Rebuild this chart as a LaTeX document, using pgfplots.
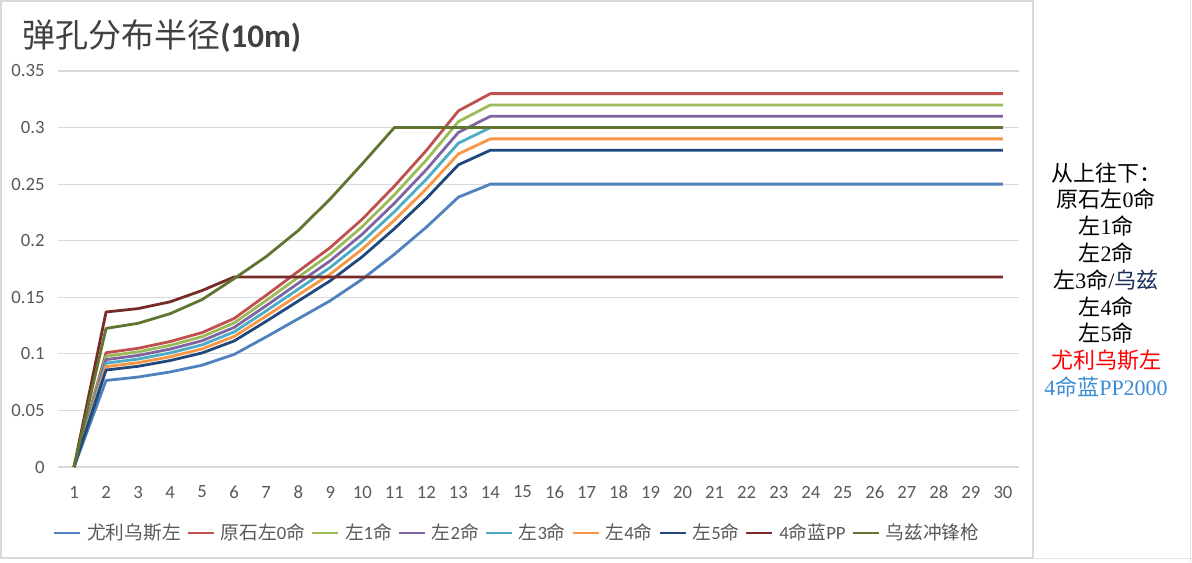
\documentclass[border=0pt]{standalone}
\usepackage{fontspec}
\setmainfont{Carlito}
\newfontfamily\cjk{Noto Sans CJK SC}
\newfontfamily\sernum{Liberation Serif}
\usepackage{pgfplots}
\pgfplotsset{compat=1.18}
\usepackage{pgfplotstable}
\definecolor{cblue}{HTML}{4F81BD}
\definecolor{cred}{HTML}{C0504D}
\definecolor{clg}{HTML}{9BBB59}
\definecolor{cpu}{HTML}{8064A2}
\definecolor{ccy}{HTML}{4BACC6}
\definecolor{cor}{HTML}{F79646}
\definecolor{cnv}{HTML}{1F497D}
\definecolor{cdr}{HTML}{772C2A}
\definecolor{cdg}{HTML}{5F7530}
\definecolor{gridc}{HTML}{D9D9D9}
\definecolor{tickc}{HTML}{595959}
\definecolor{titlec}{HTML}{404040}
\definecolor{uzi}{HTML}{1A2F5C}
\definecolor{redt}{HTML}{FF0000}
\definecolor{bluet}{HTML}{3C8DD6}
\newcommand{\zh}[1]{{\cjk #1}}

\pgfplotstableread{
x blue red lg pu cy or nv dr dg
1 0 0 0 0 0 0 0 0 0
2 0.0765 0.1010 0.0979 0.0949 0.0918 0.0887 0.0857 0.137 0.1225
3 0.0795 0.1049 0.1018 0.0986 0.0954 0.0922 0.0890 0.140 0.127
4 0.084 0.1109 0.1075 0.1042 0.1008 0.0974 0.0941 0.146 0.1355
5 0.090 0.1188 0.1152 0.1116 0.1080 0.1044 0.1008 0.156 0.148
6 0.0995 0.1313 0.1274 0.1234 0.1194 0.1154 0.1114 0.168 0.1665
7 0.115 0.1518 0.1472 0.1426 0.1380 0.1334 0.1288 0.168 0.186
8 0.131 0.1729 0.1677 0.1624 0.1572 0.1520 0.1467 0.168 0.209
9 0.147 0.1940 0.1882 0.1823 0.1764 0.1705 0.1646 0.168 0.237
10 0.166 0.2191 0.2125 0.2058 0.1992 0.1926 0.1859 0.168 0.268
11 0.188 0.2482 0.2406 0.2331 0.2256 0.2181 0.2106 0.168 0.30
12 0.212 0.2798 0.2714 0.2629 0.2544 0.2459 0.2374 0.168 0.30
13 0.2385 0.3148 0.3053 0.2957 0.2862 0.2767 0.2671 0.168 0.30
14 0.25 0.33 0.32 0.31 0.30 0.29 0.28 0.168 0.30
15 0.25 0.33 0.32 0.31 0.30 0.29 0.28 0.168 0.30
16 0.25 0.33 0.32 0.31 0.30 0.29 0.28 0.168 0.30
17 0.25 0.33 0.32 0.31 0.30 0.29 0.28 0.168 0.30
18 0.25 0.33 0.32 0.31 0.30 0.29 0.28 0.168 0.30
19 0.25 0.33 0.32 0.31 0.30 0.29 0.28 0.168 0.30
20 0.25 0.33 0.32 0.31 0.30 0.29 0.28 0.168 0.30
21 0.25 0.33 0.32 0.31 0.30 0.29 0.28 0.168 0.30
22 0.25 0.33 0.32 0.31 0.30 0.29 0.28 0.168 0.30
23 0.25 0.33 0.32 0.31 0.30 0.29 0.28 0.168 0.30
24 0.25 0.33 0.32 0.31 0.30 0.29 0.28 0.168 0.30
25 0.25 0.33 0.32 0.31 0.30 0.29 0.28 0.168 0.30
26 0.25 0.33 0.32 0.31 0.30 0.29 0.28 0.168 0.30
27 0.25 0.33 0.32 0.31 0.30 0.29 0.28 0.168 0.30
28 0.25 0.33 0.32 0.31 0.30 0.29 0.28 0.168 0.30
29 0.25 0.33 0.32 0.31 0.30 0.29 0.28 0.168 0.30
30 0.25 0.33 0.32 0.31 0.30 0.29 0.28 0.168 0.30
}\data

\begin{document}
\begin{tikzpicture}
\path[use as bounding box, fill=white] (0,0) rectangle (596pt,281pt);
\draw[gridc, line width=0.6pt] (0.5pt,2pt) rectangle (516.5pt,280.5pt);
\draw[gridc!70, line width=0.5pt] (595pt,0pt) -- (595pt,281pt);
\draw[gridc!70, line width=0.5pt] (516.5pt,2pt) -- (596pt,2pt);
\begin{axis}[
  at={(29pt,47.5pt)}, anchor=south west,
  scale only axis, width=480.5pt, height=198pt,
  xmin=0.5, xmax=30.5, ymin=0, ymax=0.35,
  xtick={1,...,30},
  xticklabels={1,2,3,4,5,6,7,8,9,10,11,12,13,14,15,16,17,18,19,20,21,22,23,24,25,26,27,28,29,30},
  ytick={0,0.05,0.1,0.15,0.2,0.25,0.3,0.35},
  yticklabels={0,0.05,0.1,0.15,0.2,0.25,0.3,0.35},
  axis line style={draw=none},
  major tick length=0pt,
  ymajorgrids, grid style={draw=gridc, line width=0.6pt},
  ticklabel style={font=\fontsize{9.35}{11}\selectfont, text=tickc},
  yticklabel style={anchor=east, inner sep=0pt, xshift=-6.5pt},
  xticklabel style={anchor=center, inner sep=0pt, yshift=-12.5pt},
  every axis plot/.append style={line width=1.4pt, line join=round, mark=none},
  legend columns=-1,
  legend style={at={(0.4766,-0.1667)}, anchor=center, draw=none, fill=none,
    font=\fontsize{9.35}{11}\selectfont, text=tickc,
    nodes={inner sep=0pt},
    /tikz/every odd column/.append style={column sep=2.8pt},
    /tikz/every even column/.append style={column sep=2.8pt}},
  legend image code/.code={\draw[#1, line width=1.4pt] (0pt,0pt) -- (13pt,0pt);},
]
\addplot[cblue] table[x=x,y=blue]{\data};
\addplot[cred] table[x=x,y=red]{\data};
\addplot[clg] table[x=x,y=lg]{\data};
\addplot[cpu] table[x=x,y=pu]{\data};
\addplot[ccy] table[x=x,y=cy]{\data};
\addplot[cor] table[x=x,y=or]{\data};
\addplot[cnv] table[x=x,y=nv]{\data};
\addplot[cdr] table[x=x,y=dr]{\data};
\addplot[cdg] table[x=x,y=dg]{\data};
\legend{\zh{尤利乌斯左},\zh{原石左}0\zh{命},\zh{左}1\zh{命},\zh{左}2\zh{命},\zh{左}3\zh{命},\zh{左}4\zh{命},\zh{左}5\zh{命},4\zh{命蓝}PP,\zh{乌兹冲锋枪}}
\end{axis}
\node[anchor=west, inner sep=0pt, text=titlec] at (11pt,263pt)
  {\fontsize{16.5}{20}\selectfont\zh{弹孔分布半径}\textbf{(10m)}};
\node[align=center, inner sep=0pt, font=\fontsize{11}{13.4}\selectfont] at (553pt,141pt) {%
\zh{从上往下：}\\
\zh{原石左}\sernum 0\zh{命}\\
\zh{左}\sernum 1\zh{命}\\
\zh{左}\sernum 2\zh{命}\\
\zh{左}\sernum 3\zh{命}/\textcolor{uzi}{\zh{乌兹}}\\
\zh{左}\sernum 4\zh{命}\\
\zh{左}\sernum 5\zh{命}\\
\textcolor{redt}{\zh{尤利乌斯左}}\\
\textcolor{bluet}{\sernum 4\zh{命蓝}\sernum PP2000}};
\end{tikzpicture}
\end{document}
